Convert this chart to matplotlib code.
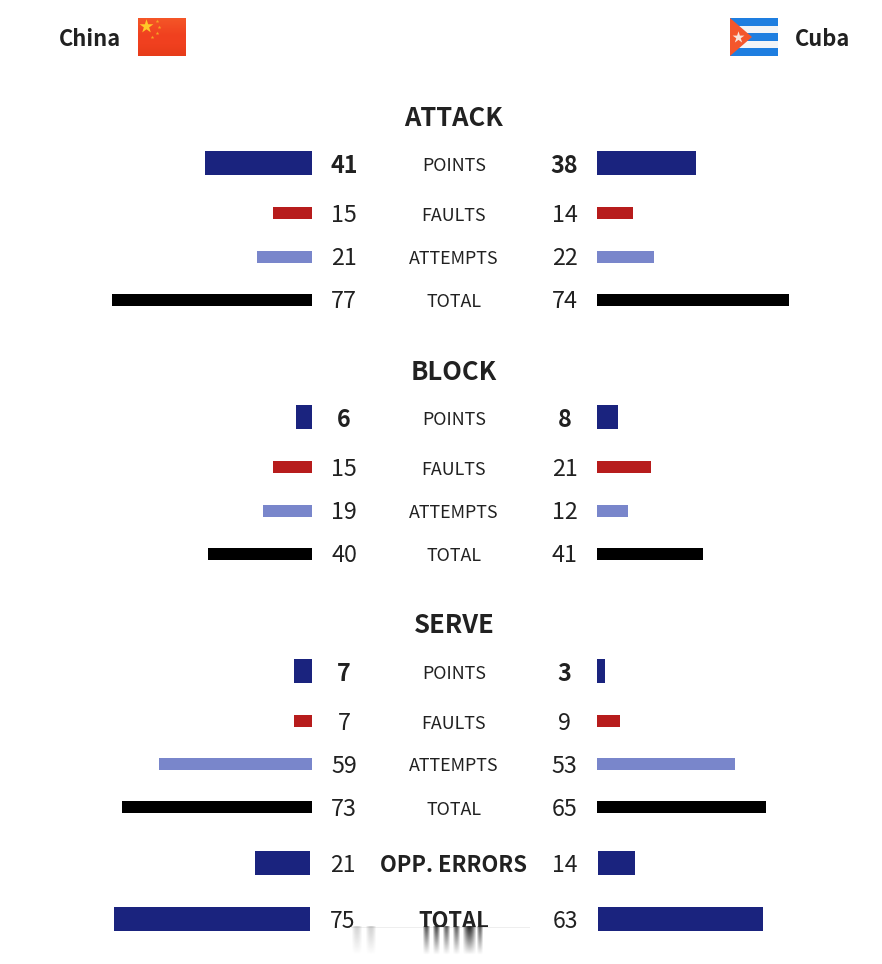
import matplotlib
matplotlib.use('Agg')
import matplotlib.pyplot as plt
from matplotlib.patches import Rectangle, Polygon
import numpy as np

plt.rcParams['font.family'] = ['Noto Sans CJK SC', 'DejaVu Sans']

sections = ['ATTACK', 'BLOCK', 'SERVE']
rows = ['POINTS', 'FAULTS', 'ATTEMPTS', 'TOTAL']
china = [[41, 15, 21, 77], [6, 15, 19, 40], [7, 7, 59, 73]]
cuba = [[38, 14, 22, 74], [8, 21, 12, 41], [3, 9, 53, 65]]
footer_labels = ['OPP. ERRORS', 'TOTAL']
footer_china = [21, 75]
footer_cuba = [14, 63]

colors = ['#1a237e', '#b71c1c', '#7986cb', '#000000']
heights = [24, 12, 12, 12]
dark = '#212121'
unit_left = 2.6
unit_right = 2.595
unit_footer = 2.62

fig = plt.figure(figsize=(8.82, 9.64), dpi=100)
ax = fig.add_axes([0, 0, 1, 1])
ax.set_xlim(0, 882)
ax.set_ylim(964, 0)
ax.axis('off')


def fade(x0, x1, y0, y1, rgb, a0, a1, zorder=6, soft=False):
    # vertical alpha ramp from a0 at y0 to a1 at y1, optionally soft at the sides
    cols = 15 if soft else 1
    img = np.zeros((40, cols, 4))
    img[:, :, :3] = matplotlib.colors.to_rgb(rgb)
    ramp = np.linspace(a0, a1, 40)[:, None]
    side = np.sin(np.linspace(0.15, np.pi - 0.15, cols))[None, :] if soft else np.ones((1, 1))
    img[:, :, 3] = ramp * side
    ax.imshow(img, extent=(x0, x1, y1, y0), aspect='auto', zorder=zorder, interpolation='bilinear')


# team headers
ax.text(90, 39, 'China', fontsize=15.8, fontweight='bold', color=dark, ha='center', va='center')
ax.text(822, 39, 'Cuba', fontsize=15.8, fontweight='bold', color=dark, ha='center', va='center')

# flags
ax.add_patch(Rectangle((138, 18), 48, 38, color='#f0401f', lw=0))
fade(138, 186, 18, 36, '#ff8a3c', 0.3, 0.0, zorder=2)
fade(138, 186, 44, 56, '#d5330f', 0.0, 0.35, zorder=2)
ax.scatter([146], [26], marker='*', s=110, color='#ffc928', lw=0, zorder=3)
ax.scatter([157, 159, 157, 152], [21, 27, 33, 37], marker='*', s=8, color='#f6a623', lw=0, zorder=3)

ax.add_patch(Rectangle((730, 18), 48, 38, color='#1e7ee0', lw=0))
ax.add_patch(Rectangle((730, 25.6), 48, 7.6, color='#f2f4f7', lw=0))
ax.add_patch(Rectangle((730, 40.8), 48, 7.6, color='#f2f4f7', lw=0))
ax.add_patch(Polygon([(730, 18), (752, 37), (730, 56)], color='#f4562c', lw=0, zorder=2))
ax.scatter([738], [37], marker='*', s=80, color='#f7e4dc', lw=0, zorder=3)

# section rows
title_y = [118, 372, 625.7]
bar_offsets = [45, 95, 138.5, 181.5]
text_offsets = [48.3, 98, 140.5, 184]
for s, name in enumerate(sections):
    top = title_y[s]
    ax.text(454, top, name, fontsize=18.4, fontweight='bold', color=dark, ha='center', va='center')
    for r, label in enumerate(rows):
        bar_y = top + bar_offsets[r]
        txt_y = top + text_offsets[r]
        ax.barh(bar_y, unit_left * china[s][r], left=312 - unit_left * china[s][r], height=heights[r], color=colors[r])
        ax.barh(bar_y, unit_right * cuba[s][r], left=597, height=heights[r], color=colors[r])
        weight = 'bold' if r == 0 else 'normal'
        ax.text(344, txt_y, str(china[s][r]), fontsize=16.8, fontweight=weight, color=dark, ha='center', va='center')
        ax.text(564.5, txt_y, str(cuba[s][r]), fontsize=16.8, fontweight=weight, color=dark, ha='center', va='center')
        ax.text(454, txt_y, label, fontsize=12.9, color=dark, ha='center', va='center')

# match level rows
footer_y = [863, 919]
for i, label in enumerate(footer_labels):
    y = footer_y[i]
    ax.barh(y, unit_footer * footer_china[i], left=310 - unit_footer * footer_china[i], height=24, color=colors[0])
    ax.barh(y, unit_footer * footer_cuba[i], left=598, height=24, color=colors[0])
    ax.text(343, y + 3, str(footer_china[i]), fontsize=16.5, color=dark, ha='center', va='center')
    ax.text(565, y + 3, str(footer_cuba[i]), fontsize=16.5, color=dark, ha='center', va='center')
    ax.text(454, y + 3, label, fontsize=15.8, fontweight='bold', color=dark, ha='center', va='center')

# smeared strip along the bottom edge
ax.add_patch(Rectangle((350, 927), 180, 37, color='white', lw=0, zorder=5))
ax.add_patch(Rectangle((350, 926.5), 180, 1.5, color='#eeeeee', lw=0, zorder=6))
streaks = [(423, 430, 0.8), (433, 440, 0.85), (443, 450, 0.75), (453, 460, 0.75),
           (463, 476, 1.0), (477, 483, 0.75), (352, 362, 0.2), (366, 376, 0.22)]
for x0, x1, strength in streaks:
    fade(x0, x1, 926, 955, '#222222', strength, 0.0, soft=True)

ax.set_xlim(0, 882)
ax.set_ylim(964, 0)
fig.savefig('out.png', dpi=100)
